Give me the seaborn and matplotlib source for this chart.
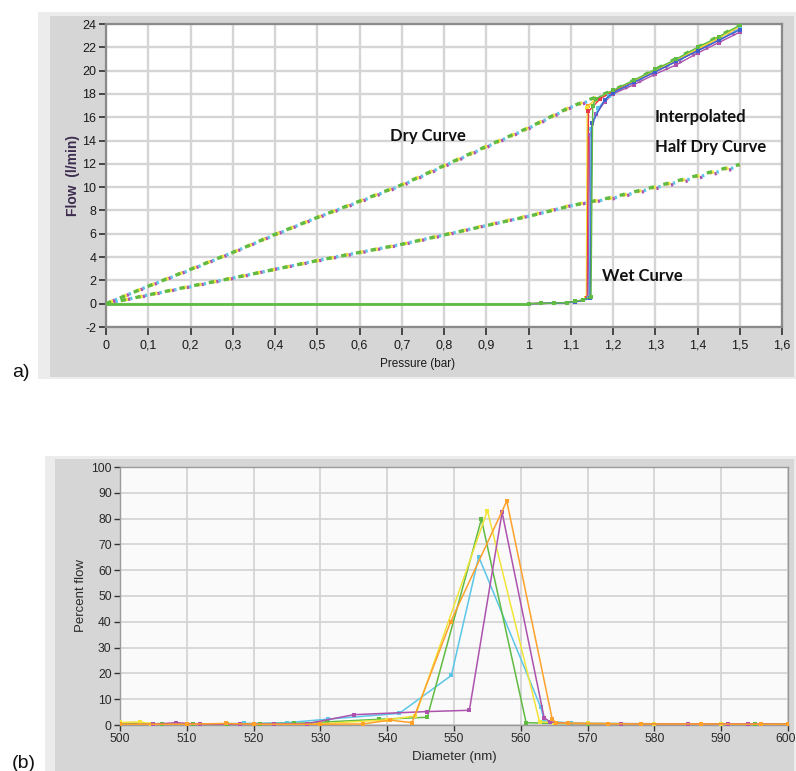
import matplotlib
matplotlib.use("Agg")
import matplotlib.pyplot as plt
import seaborn as sns
import pandas as pd
from matplotlib.patches import Rectangle
from matplotlib.ticker import FuncFormatter, MultipleLocator
from matplotlib.transforms import ScaledTranslation

sns.set_theme(style="white")
plt.rcParams['font.family'] = ['Liberation Sans', 'DejaVu Sans']

# ---------------- data, panel (a) ----------------
pressure = [0.0, 0.1, 0.2, 0.3, 0.4, 0.5, 0.6, 0.7, 0.8, 0.9, 1.0, 1.1, 1.2, 1.3, 1.4, 1.5]
dry_green   = [0.0, 1.5, 2.95, 4.4, 5.95, 7.4, 8.8, 10.2, 11.85, 13.5, 15.1, 16.9, 18.3, 20.1, 22.0, 23.9]
dry_orange  = [0.0, 1.5, 2.95, 4.4, 5.9, 7.4, 8.75, 10.2, 11.8, 13.45, 15.05, 16.85, 18.2, 20.0, 21.9, 23.8]
dry_magenta = [0.0, 1.45, 2.9, 4.35, 5.9, 7.35, 8.7, 10.1, 11.75, 13.4, 15.0, 16.8, 18.0, 19.7, 21.5, 23.4]
dry_yellow  = [0.0, 1.5, 2.95, 4.4, 5.95, 7.4, 8.8, 10.2, 11.85, 13.5, 15.1, 16.9, 18.2, 20.0, 21.9, 23.8]
dry_cyan    = [0.0, 1.5, 2.9, 4.4, 5.9, 7.4, 8.75, 10.15, 11.8, 13.45, 15.05, 16.85, 18.1, 19.9, 21.7, 23.6]

half_green   = [0.0, 0.75, 1.5, 2.2, 2.95, 3.7, 4.4, 5.1, 5.9, 6.7, 7.5, 8.4, 9.15, 10.05, 11.0, 11.95]
half_orange  = [0.0, 0.75, 1.5, 2.2, 2.95, 3.7, 4.4, 5.1, 5.9, 6.7, 7.5, 8.4, 9.1, 10.0, 10.95, 11.9]
half_magenta = [0.0, 0.7, 1.45, 2.15, 2.95, 3.65, 4.35, 5.05, 5.85, 6.7, 7.5, 8.4, 9.0, 9.85, 10.75, 11.7]
half_yellow  = [0.0, 0.75, 1.5, 2.2, 2.95, 3.7, 4.4, 5.1, 5.9, 6.75, 7.55, 8.45, 9.1, 10.0, 10.95, 11.9]
half_cyan    = [0.0, 0.75, 1.45, 2.2, 2.95, 3.7, 4.4, 5.1, 5.9, 6.7, 7.5, 8.4, 9.05, 9.95, 10.85, 11.8]

wet_base_p = [0.0, 1.0]
wet_base_v = [0.0, 0.0]

wet_p_orange = [1.0, 1.03, 1.06, 1.09, 1.11, 1.13, 1.138, 1.141, 1.16, 1.2, 1.25, 1.3, 1.35, 1.4, 1.45, 1.5]
wet_v_orange = [0.0, 0.03, 0.05, 0.1, 0.15, 0.3, 0.5, 17.0, 17.5, 18.2, 19.1, 20.0, 20.9, 21.8, 22.8, 23.8]
wet_p_yellow = [1.0, 1.03, 1.06, 1.09, 1.11, 1.13, 1.137, 1.139, 1.16, 1.2, 1.25, 1.3, 1.35, 1.4, 1.45, 1.5]
wet_v_yellow = [0.0, 0.02, 0.04, 0.08, 0.15, 0.3, 0.5, 16.8, 17.6, 18.2, 19.1, 20.0, 20.9, 21.9, 22.8, 23.8]
wet_p_red = [1.0, 1.03, 1.06, 1.09, 1.11, 1.13, 1.139, 1.142, 1.17, 1.2, 1.25, 1.3, 1.35, 1.4, 1.45, 1.5]
wet_v_red = [0.0, 0.02, 0.05, 0.1, 0.18, 0.3, 0.5, 16.5, 17.6, 18.2, 19.0, 19.9, 20.8, 21.7, 22.6, 23.6]
wet_p_magenta = [1.0, 1.03, 1.06, 1.09, 1.11, 1.13, 1.141, 1.145, 1.16, 1.18, 1.2, 1.25, 1.3, 1.35, 1.4, 1.45, 1.5]
wet_v_magenta = [0.0, 0.02, 0.04, 0.08, 0.15, 0.3, 0.5, 14.5, 16.3, 17.3, 18.0, 18.8, 19.7, 20.5, 21.5, 22.4, 23.3]
wet_p_cyan = [1.0, 1.03, 1.06, 1.09, 1.11, 1.13, 1.144, 1.148, 1.165, 1.19, 1.2, 1.25, 1.3, 1.35, 1.4, 1.45, 1.5]
wet_v_cyan = [0.0, 0.02, 0.05, 0.1, 0.18, 0.3, 0.5, 15.0, 16.8, 17.8, 18.1, 19.0, 19.9, 20.8, 21.7, 22.6, 23.6]
wet_p_blue = [1.0, 1.03, 1.06, 1.09, 1.11, 1.13, 1.146, 1.15, 1.18, 1.2, 1.25, 1.3, 1.35, 1.4, 1.45, 1.5]
wet_v_blue = [0.0, 0.02, 0.04, 0.09, 0.16, 0.3, 0.5, 15.5, 17.5, 18.1, 19.0, 19.9, 20.8, 21.7, 22.6, 23.5]
wet_p_green = [1.0, 1.03, 1.06, 1.09, 1.11, 1.13, 1.148, 1.152, 1.16, 1.2, 1.25, 1.3, 1.35, 1.4, 1.45, 1.5]
wet_v_green = [0.0, 0.02, 0.05, 0.1, 0.2, 0.35, 0.6, 17.0, 17.6, 18.3, 19.2, 20.1, 21.0, 22.0, 22.9, 23.9]

# ---------------- data, panel (b) ----------------
diameter_ticks = [500, 510, 520, 530, 540, 550, 560, 570, 580, 590, 600]
d_green = [500, 503, 506.3, 511, 516, 521, 526, 531, 538.7, 546.0, 554.1, 560.8, 565, 570, 575, 580, 585, 590, 595, 600]
v_green = [0.8, 0.6, 0.5, 0.4, 0.4, 0.5, 0.6, 1.2, 2.2, 3.0, 79.8, 0.9, 0.6, 0.5, 0.5, 0.4, 0.4, 0.3, 0.3, 0.3]
d_yellow = [500, 503, 504.6, 510, 520, 530, 540, 544.2, 555.0, 562.8, 565, 570, 575, 580, 585, 590, 600]
v_yellow = [1.0, 1.2, 0.5, 0.3, 0.3, 0.5, 2.0, 3.5, 83.1, 1.3, 0.8, 0.6, 0.5, 0.4, 0.4, 0.3, 0.3]
d_orange = [500, 510, 515.8, 520, 530, 536.4, 540.4, 543.7, 549.5, 557.9, 564.7, 565.3, 567, 573, 578, 587, 596, 600]
v_orange = [0.3, 0.3, 0.6, 0.3, 0.3, 0.4, 1.9, 0.9, 40.0, 86.8, 2.3, 0.9, 0.6, 0.5, 0.4, 0.4, 0.3, 0.3]
d_magenta = [500, 505, 508.4, 512, 518, 523, 528, 535.0, 545.9, 552.3, 557.2, 563.5, 564.4, 567, 575, 585, 591, 594, 600]
v_magenta = [0.2, 0.3, 0.9, 0.3, 0.3, 0.4, 0.5, 4.0, 5.2, 5.7, 82.4, 2.8, 1.2, 0.6, 0.5, 0.4, 0.4, 0.4, 0.3]
d_cyan = [500, 505, 510, 518.5, 525, 531.2, 541.8, 549.6, 553.7, 563.0, 563.5, 567.5, 570, 580, 590, 600]
v_cyan = [0.3, 0.3, 0.3, 0.6, 0.9, 2.3, 4.5, 19.2, 65.2, 6.8, 1.5, 0.8, 0.6, 0.5, 0.4, 0.4]

# ---------------- styling ----------------
C_GREEN = "#5fbb42"
C_ORANGE = "#ffa12b"
C_YELLOW = "#f2e43a"
C_MAGENTA = "#ad52ad"
C_CYAN = "#5cc6e8"
C_RED = "#e8384a"
C_BLUE = "#3f5fd0"

W, H = 796, 771
fig = plt.figure(figsize=(W / 100, H / 100), dpi=100)
fig.patch.set_facecolor("white")


def rect(x0, y0, x1, y1, color):
    fig.add_artist(Rectangle((x0 / W, 1 - y1 / H), (x1 - x0) / W, (y1 - y0) / H,
                             transform=fig.transFigure, facecolor=color,
                             edgecolor="none", zorder=-5))


def axes_px(x0, y0, x1, y1):
    return fig.add_axes([x0 / W, 1 - y1 / H, (x1 - x0) / W, (y1 - y0) / H])


# background panels
rect(38, 12, 796, 379, "#ececec")
rect(50, 16, 794, 377, "#d6d6d6")
rect(45, 456, 796, 771, "#ececec")
rect(55, 459, 794, 771, "#d6d6d6")

# ---------------- panel (a) ----------------
ax1 = axes_px(106, 24, 782, 327)
ax1.set_facecolor("white")

dry_runs = [(dry_cyan, half_cyan, C_CYAN), (dry_magenta, half_magenta, C_MAGENTA),
            (dry_yellow, half_yellow, C_YELLOW), (dry_orange, half_orange, C_ORANGE),
            (dry_green, half_green, C_GREEN)]
for k, (dry, half, col) in enumerate(dry_runs):
    if col == C_GREEN:
        ls = (0, (1.6, 2.9))
    else:
        ls = (1.6 + k * 0.7, (0.7, 3.8))
    sns.lineplot(x=pressure, y=dry, ax=ax1, color=col, lw=2.4, linestyle=ls,
                 estimator=None, sort=False, zorder=3)
    sns.lineplot(x=pressure, y=half, ax=ax1, color=col, lw=2.4, linestyle=ls,
                 estimator=None, sort=False, zorder=3)

sns.lineplot(x=wet_base_p, y=wet_base_v, ax=ax1, color=C_GREEN, lw=2.0,
             estimator=None, sort=False, zorder=4)

wet_runs = [(wet_p_orange, wet_v_orange, C_ORANGE), (wet_p_yellow, wet_v_yellow, C_YELLOW),
            (wet_p_red, wet_v_red, C_RED), (wet_p_magenta, wet_v_magenta, C_MAGENTA),
            (wet_p_cyan, wet_v_cyan, C_CYAN), (wet_p_blue, wet_v_blue, C_BLUE),
            (wet_p_green, wet_v_green, C_GREEN)]
for p, v, col in wet_runs:
    sns.lineplot(x=p, y=v, ax=ax1, color=col, lw=1.0, marker="s", markersize=3.2,
                 markeredgewidth=0, estimator=None, sort=False, zorder=5)

ax1.set_xlim(0, 1.6)
ax1.set_ylim(-2, 24)
ax1.xaxis.set_major_locator(MultipleLocator(0.1))
ax1.yaxis.set_major_locator(MultipleLocator(2))


def comma(v, pos):
    s = f"{v:.1f}".rstrip("0").rstrip(".")
    if s == "-0":
        s = "0"
    return s.replace(".", ",")


ax1.xaxis.set_major_formatter(FuncFormatter(comma))
ax1.yaxis.set_major_formatter(FuncFormatter(lambda v, pos: f"{v:.0f}"))
ax1.grid(True, color="#d5d5d5", lw=1.7, zorder=0)
ax1.set_axisbelow(True)
for s in ax1.spines.values():
    s.set_color("#8a8a8a")
    s.set_linewidth(1.6)
ax1.tick_params(axis="both", which="major", bottom=True, left=True, direction="out",
                length=5, width=1.3, color="#3a3a3a", labelsize=9,
                labelcolor="#1a1a1a", pad=2)
ax1.tick_params(axis="x", length=6, pad=3)
ax1.set_xlabel("Pressure (bar)", fontsize=8.5, color="#1a1a1a")
ax1.set_ylabel("Flow  (l/min)", fontsize=10, fontweight="bold", color="#3d2b4f")
ax1.xaxis.set_label_coords((418 - 106) / 676, -0.102)
ax1.yaxis.set_label_coords(-0.038, 0.5)

afont = dict(family=["Lato", "Liberation Sans"], fontweight="bold",
             fontsize=12, color="#111111", va="center", ha="left", zorder=6)
ax1.text(0.672, 14.38, "Dry Curve", **afont)
ax1.text(1.299, 16.06, "Interpolated", **afont)
ax1.text(1.299, 13.46, "Half Dry Curve", **afont)
ax1.text(1.173, 2.34, "Wet Curve", **afont)

# ---------------- panel (b) ----------------
ax2 = axes_px(120, 467, 788, 725)
ax2.set_facecolor("#fafafa")
series_b = [(d_cyan, v_cyan, C_CYAN), (d_green, v_green, C_GREEN),
            (d_yellow, v_yellow, C_YELLOW), (d_magenta, v_magenta, C_MAGENTA),
            (d_orange, v_orange, C_ORANGE)]
for d, v, col in series_b:
    sns.lineplot(x=d, y=v, ax=ax2, color=col, lw=1.1, marker="s", markersize=3,
                 markeredgewidth=0, estimator=None, sort=False, zorder=3)
ax2.set_xlim(500, 600)
ax2.set_ylim(0, 100)
ax2.set_xticks(diameter_ticks)
ax2.yaxis.set_major_locator(MultipleLocator(10))
ax2.grid(True, color="#d2d2d2", lw=1.2, zorder=0)
ax2.set_axisbelow(True)
for s in ax2.spines.values():
    s.set_color("#9a9a9a")
    s.set_linewidth(1.0)
ax2.tick_params(axis="both", which="major", bottom=True, left=True, direction="out",
                length=4, width=1.0, color="#333333", labelsize=8.7,
                labelcolor="#2a2a2a", pad=2)
ax2.set_xlabel("Diameter (nm)", fontsize=9.5, color="#2a2a2a")
ax2.set_ylabel("Percent flow", fontsize=9.5, color="#2a2a2a")
ax2.xaxis.set_label_coords(0.5, -0.1)
ax2.yaxis.set_label_coords(-0.049, 0.5)

# keep the last diameter label inside the picture edge
last = ax2.xaxis.get_major_ticks()[-1].label1
last.set_ha("right")
last.set_transform(last.get_transform() + ScaledTranslation(0.075, 0, fig.dpi_scale_trans))

fig.text(12 / W, 1 - 372 / H, "a)", fontsize=14, va="center", ha="left", color="#111111")
fig.text(12 / W, 1 - 763 / H, "(b)", fontsize=14, va="center", ha="left", color="#111111")

fig.savefig("out.png", dpi=100)
